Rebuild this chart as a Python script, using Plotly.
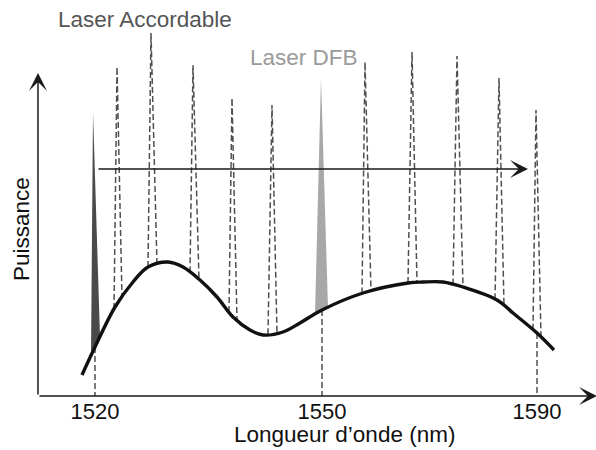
import numpy as np
import plotly.graph_objects as go

# Schematic units: x = position along wavelength axis, y = power (axis origin at 0,0)
curve_x = [44, 57, 77, 95, 110, 130, 145, 162, 179, 195, 212, 225, 245, 262, 284, 325, 370, 385, 405, 425, 459, 475, 499, 516]
curve_y = [21, 49, 89, 114, 129, 134, 129, 116, 99, 79, 66, 61, 64, 73, 86, 103, 113, 114, 114, 109, 96, 83, 63, 46]

# Tunable laser (dashed) peaks
tune_tip_x = [79, 113, 155, 194, 234, 327, 374, 419, 461, 498]
tune_tip_y = [329, 363, 331, 298, 291, 334, 344, 340, 318, 286]
tune_left_x = [76, 110, 152, 191, 230, 324, 370, 415, 457, 495]
tune_right_x = [84, 119, 161, 199, 239, 333, 379, 425, 466, 503]

# Filled spikes: [tip_x, tip_y, left_x, right_x]
spike_1520 = [55, 283, 53, 62]
spike_dfb = [283, 318, 277, 290]

# Wavelength markers
tick_pos = [57, 284, 499]
tick_labels = ["1520", "1550", "1590"]

# Sweep arrow
sweep_start = [59, 227]
sweep_end = [490, 227]

FONT = "Liberation Sans, Arial, Helvetica, sans-serif"
W, H = 596, 450
ML, MB = 38, 54
PLOT_W, PLOT_H = W - ML, H - MB


def cy(x):
    return float(np.interp(x, curve_x, curve_y))


fig = go.Figure()

DASH = dict(color="#505050", width=1.5, dash="6px,3px")

# dashed tunable peaks
dx, dy = [], []
for tx, ty, lx, rx in zip(tune_tip_x, tune_tip_y, tune_left_x, tune_right_x):
    dx += [lx, tx, rx, None]
    dy += [cy(lx), ty, cy(rx), None]
fig.add_trace(go.Scatter(x=dx, y=dy, mode="lines", line=DASH, hoverinfo="skip"))

# vertical markers from curve to axis
vx, vy = [], []
for p in tick_pos:
    vx += [p, p, None]
    vy += [cy(p), 0, None]
fig.add_trace(go.Scatter(x=vx, y=vy, mode="lines", line=DASH, hoverinfo="skip"))

# filled spikes
for sp, col in [(spike_1520, "#4a4a4a"), (spike_dfb, "#a8a8a8")]:
    tx, ty, lx, rx = sp
    fig.add_trace(go.Scatter(x=[lx, tx, rx, lx], y=[cy(lx), ty, cy(rx), cy(lx)],
                             mode="lines", fill="toself", fillcolor=col,
                             line=dict(width=0, color=col), hoverinfo="skip"))

# main curve
fig.add_trace(go.Scatter(x=curve_x, y=curve_y, mode="lines",
                         line=dict(color="#111111", width=3.4, shape="spline", smoothing=1.0),
                         hoverinfo="skip"))


# arrows
def arrow(x0, y0, x1, y1, w=1.5, size=2.0):
    fig.add_annotation(x=x1, y=y1, ax=x0, ay=y0, xref="x", yref="y", axref="x", ayref="y",
                       text="", showarrow=True, arrowhead=3, arrowsize=size,
                       arrowwidth=w, arrowcolor="#1a1a1a")


arrow(0, 0, 0, 323)
arrow(0, 0, 559, 0)
arrow(sweep_start[0], sweep_start[1], sweep_end[0], sweep_end[1])

# texts
fig.add_annotation(x=107, y=377, xref="x", yref="y", text="Laser Accordable", showarrow=False,
                   xanchor="center", yanchor="middle",
                   font=dict(family=FONT, size=22.5, color="#555555"))
fig.add_annotation(x=266, y=339, xref="x", yref="y", text="Laser DFB", showarrow=False,
                   xanchor="center", yanchor="middle",
                   font=dict(family=FONT, size=22.5, color="#9a9a9a"))
fig.add_annotation(x=(344 - ML) / PLOT_W, y=-39 / PLOT_H, xref="paper", yref="paper",
                   text="Longueur d’onde (nm)", showarrow=False,
                   xanchor="center", yanchor="middle",
                   font=dict(family=FONT, size=22.5, color="#111111"))
fig.add_annotation(x=(21 - ML) / PLOT_W, y=167 / PLOT_H, xref="paper", yref="paper",
                   text="Puissance", textangle=-90, showarrow=False,
                   xanchor="center", yanchor="middle",
                   font=dict(family=FONT, size=22.5, color="#111111"))

fig.update_layout(
    width=W, height=H,
    margin=dict(l=ML, r=0, t=0, b=MB, autoexpand=False),
    paper_bgcolor="white", plot_bgcolor="white",
    showlegend=False,
    xaxis=dict(range=[0, PLOT_W], showgrid=False, zeroline=False, showline=False,
               tickvals=tick_pos, ticktext=tick_labels, ticks="",
               tickfont=dict(family=FONT, size=22, color="#111111"), fixedrange=True),
    yaxis=dict(range=[0, PLOT_H], showgrid=False, zeroline=False, showline=False,
               showticklabels=False, fixedrange=True),
)

fig.write_html("out.html", config={"displayModeBar": False},
               post_script="document.body.style.margin='0px';document.body.style.padding='0px';")
